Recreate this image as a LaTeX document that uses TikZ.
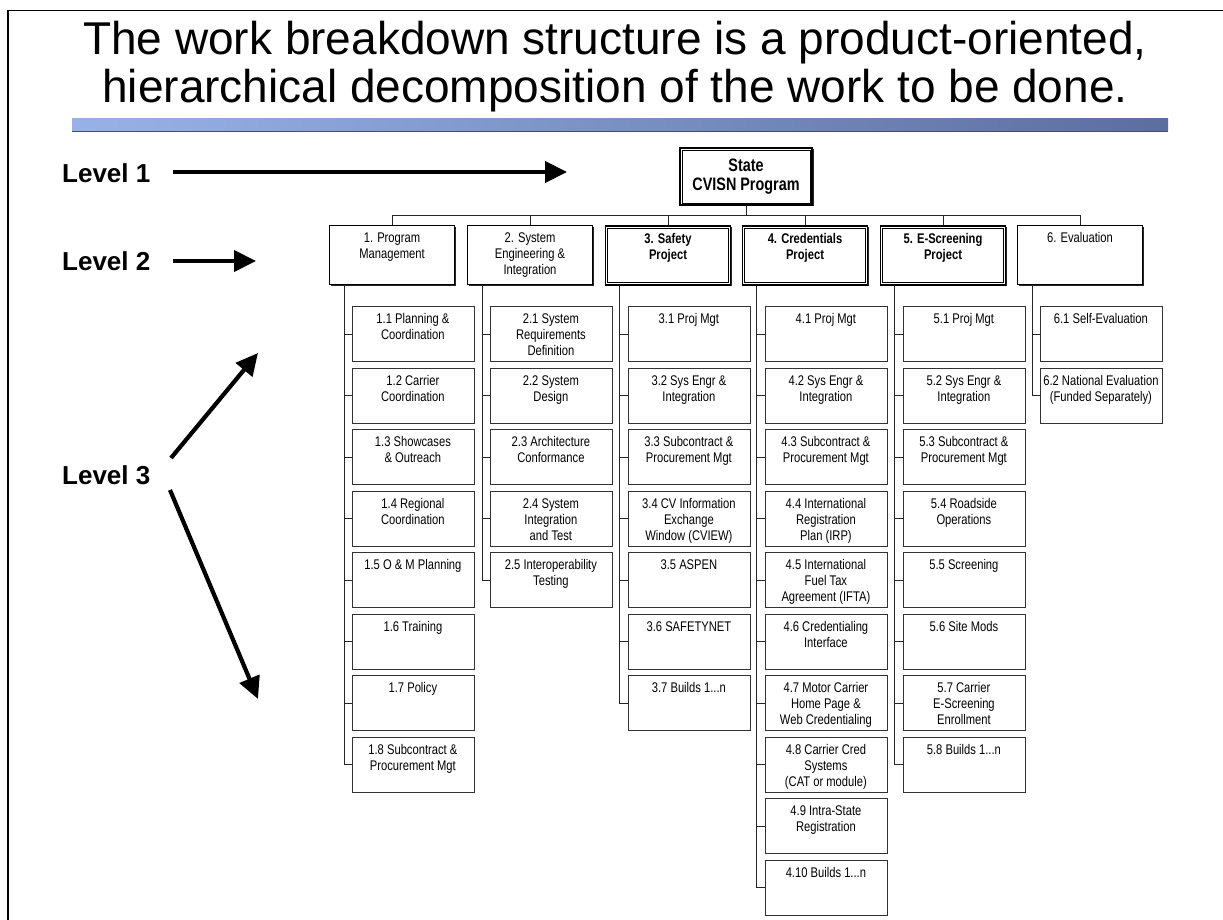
\documentclass[tikz,border=0pt]{standalone}
\usepackage{fontspec}
\setmainfont{Liberation Sans}
\newfontfamily\titlefont{Liberation Sans}
\newfontfamily\boxfont{Liberation Sans}[FakeStretch=0.8]
\usetikzlibrary{arrows.meta,shadows}

% text blocks of the work packages, set from the top of their boxes
\newcommand\lthree[1]{\parbox[t][43pt][t]{116pt}{\centering\strut #1}}
\newcommand\ltwo[1]{\parbox[t][47pt][t]{119pt}{\centering\strut #1}}
% one level-3 work package: name, left x, row, text
\newcommand\leaf[4]{\node[leafbox] (#1) at (#2,{306+(#3-1)*61.5}) {\lthree{#4}};}

\definecolor{barlight}{RGB}{152,178,232}
\definecolor{bardark}{RGB}{92,110,158}

\begin{document}
\begin{tikzpicture}[x=1pt,y=-1pt,
  frameline/.style={line width=1.9pt},
  titletext/.style={font=\titlefont\fontsize{46}{50}\selectfont, anchor=base, inner sep=0pt},
  levellabel/.style={font=\fontsize{26}{30}\selectfont\bfseries, anchor=west, inner sep=0pt},
  levelarrow/.style={line width=4.2pt, -{Triangle[length=22pt,width=21pt]}},
  rootbox/.style={draw, line width=2pt, fill=white, minimum width=132pt, minimum height=57pt,
    align=center, inner sep=0pt,
    font=\boxfont\fontsize{18}{19}\selectfont\bfseries,
    drop shadow={shadow xshift=1.5pt, shadow yshift=-1.5pt, fill=black!85, opacity=1}},
  areabox/.style={draw, line width=0.9pt, fill=white, anchor=north,
    inner xsep=3pt, inner ysep=6pt,
    font=\boxfont\fontsize{14}{16}\selectfont,
    drop shadow={shadow xshift=1.6pt, shadow yshift=-1.6pt, fill=black!85, opacity=1}},
  projbox/.style={areabox, line width=1.7pt, font=\boxfont\fontsize{14}{16}\selectfont\bfseries},
  leafbox/.style={draw=black!80, line width=0.8pt, fill=white, anchor=north west,
    inner xsep=3pt, inner ysep=6pt,
    font=\boxfont\fontsize{14}{16}\selectfont},
  conn/.style={draw=black!85, line width=0.8pt},
]
\path[use as bounding box, fill=white] (0,0) rectangle (1223,920);

% frame lines along the top and the left side
\draw[frameline] (1223,10.5) -- (8.3,10.5) -- (8.3,920);

% heading
\node[titletext] (title1) at (615,55) {The work breakdown structure is a product-oriented,};
\node[titletext] (title2) at (615,103) {hierarchical decomposition of the work to be done.};
\shade[left color=barlight, right color=bardark] (72,119) rectangle (1168,131);
\draw[bardark!70!black, line width=0.6pt] (72,131) -- (1168,131);

% level captions and their arrows
\node[levellabel] (lv1) at (62,173) {Level 1};
\node[levellabel] (lv2) at (62,261) {Level 2};
\node[levellabel] (lv3) at (62,475) {Level 3};
\coordinate (lv1s) at (173,172);
\coordinate (lv1t) at (567,172);
\coordinate (lv2s) at (173,261);
\coordinate (lv2t) at (256,261);
\coordinate (lv3us) at (171,458);
\coordinate (lv3ut) at (258,353);
\coordinate (lv3ds) at (170,490);
\coordinate (lv3dt) at (258,699);
\draw[levelarrow] (lv1s) -- (lv1t);
\draw[levelarrow] (lv2s) -- (lv2t);
\draw[levelarrow] (lv3us) -- (lv3ut);
\draw[levelarrow] (lv3ds) -- (lv3dt);

% level 1
\node[rootbox] (root) at (746,176.5) {State\\CVISN Program};

% level 2
\node[areabox, minimum width=125pt, minimum height=59pt] (p1) at (392,225) {\ltwo{1. Program\\Management}};
\node[areabox, minimum width=125pt, minimum height=59pt] (p2) at (530,225) {\ltwo{2. System\\Engineering \&\\Integration}};
\node[projbox, minimum width=125pt, minimum height=59pt] (p3) at (668,225) {\ltwo{3. Safety\\Project}};
\node[projbox, minimum width=125pt, minimum height=59pt] (p4) at (805,225) {\ltwo{4. Credentials\\Project}};
\node[projbox, minimum width=125pt, minimum height=59pt] (p5) at (943,225) {\ltwo{5. E-Screening\\Project}};
\node[areabox, minimum width=125pt, minimum height=59pt] (p6) at (1080,225) {\ltwo{6. Evaluation}};

% inner rules of the double frames
\foreach \n in {root,p3,p4,p5}
  \draw[line width=0.6pt] ([xshift=3pt,yshift=-3pt]\n.north west) rectangle ([xshift=-3pt,yshift=3pt]\n.south east);

% bus from level 1 to level 2
\coordinate (busy) at (0,215);
\draw[conn] (root.south) -- (root.south |- busy);
\draw[conn] (p1.north |- busy) -- (p6.north |- busy);
\foreach \n in {p1,p2,p3,p4,p5,p6}
  \draw[conn] (\n.north |- busy) -- (\n.north);

% level 3: program management
\leaf{c1-1}{351.5}{1}{1.1 Planning \&\\Coordination}
\leaf{c1-2}{351.5}{2}{1.2 Carrier\\Coordination}
\leaf{c1-3}{351.5}{3}{1.3 Showcases\\\& Outreach}
\leaf{c1-4}{351.5}{4}{1.4 Regional\\Coordination}
\leaf{c1-5}{351.5}{5}{1.5 O \& M Planning}
\leaf{c1-6}{351.5}{6}{1.6 Training}
\leaf{c1-7}{351.5}{7}{1.7 Policy}
\leaf{c1-8}{351.5}{8}{1.8 Subcontract \&\\Procurement Mgt}

% level 3: system engineering
\leaf{c2-1}{489.5}{1}{2.1 System\\Requirements\\Definition}
\leaf{c2-2}{489.5}{2}{2.2 System\\Design}
\leaf{c2-3}{489.5}{3}{2.3 Architecture\\Conformance}
\leaf{c2-4}{489.5}{4}{2.4 System\\Integration\\and Test}
\leaf{c2-5}{489.5}{5}{2.5 Interoperability\\Testing}

% level 3: safety project
\leaf{c3-1}{627.5}{1}{3.1 Proj Mgt}
\leaf{c3-2}{627.5}{2}{3.2 Sys Engr \&\\Integration}
\leaf{c3-3}{627.5}{3}{3.3 Subcontract \&\\Procurement Mgt}
\leaf{c3-4}{627.5}{4}{3.4 CV Information\\Exchange\\Window (CVIEW)}
\leaf{c3-5}{627.5}{5}{3.5 ASPEN}
\leaf{c3-6}{627.5}{6}{3.6 SAFETYNET}
\leaf{c3-7}{627.5}{7}{3.7 Builds 1...n}

% level 3: credentials project
\leaf{c4-1}{764.5}{1}{4.1 Proj Mgt}
\leaf{c4-2}{764.5}{2}{4.2 Sys Engr \&\\Integration}
\leaf{c4-3}{764.5}{3}{4.3 Subcontract \&\\Procurement Mgt}
\leaf{c4-4}{764.5}{4}{4.4 International\\Registration\\Plan (IRP)}
\leaf{c4-5}{764.5}{5}{4.5 International\\Fuel Tax\\Agreement (IFTA)}
\leaf{c4-6}{764.5}{6}{4.6 Credentialing\\Interface}
\leaf{c4-7}{764.5}{7}{4.7 Motor Carrier\\Home Page \&\\Web Credentialing}
\leaf{c4-8}{764.5}{8}{4.8 Carrier Cred\\Systems\\(CAT or module)}
\leaf{c4-9}{764.5}{9}{4.9 Intra-State\\Registration}
\leaf{c4-10}{764.5}{10}{4.10 Builds 1...n}

% level 3: e-screening project
\leaf{c5-1}{902.5}{1}{5.1 Proj Mgt}
\leaf{c5-2}{902.5}{2}{5.2 Sys Engr \&\\Integration}
\leaf{c5-3}{902.5}{3}{5.3 Subcontract \&\\Procurement Mgt}
\leaf{c5-4}{902.5}{4}{5.4 Roadside\\Operations}
\leaf{c5-5}{902.5}{5}{5.5 Screening}
\leaf{c5-6}{902.5}{6}{5.6 Site Mods}
\leaf{c5-7}{902.5}{7}{5.7 Carrier\\E-Screening\\Enrollment}
\leaf{c5-8}{902.5}{8}{5.8 Builds 1...n}

% level 3: evaluation
\leaf{c6-1}{1039.5}{1}{6.1 Self-Evaluation}
\leaf{c6-2}{1039.5}{2}{6.2 National Evaluation\\(Funded Separately)}

% trunks and branches to the level-3 boxes
\foreach \c/\last in {1/8,2/5,3/7,4/10,5/8,6/2}
  \foreach \r in {1,...,\last}
    \draw[conn] ([xshift=15pt]p\c.south west) |- (c\c-\r.west);
\end{tikzpicture}
\end{document}
